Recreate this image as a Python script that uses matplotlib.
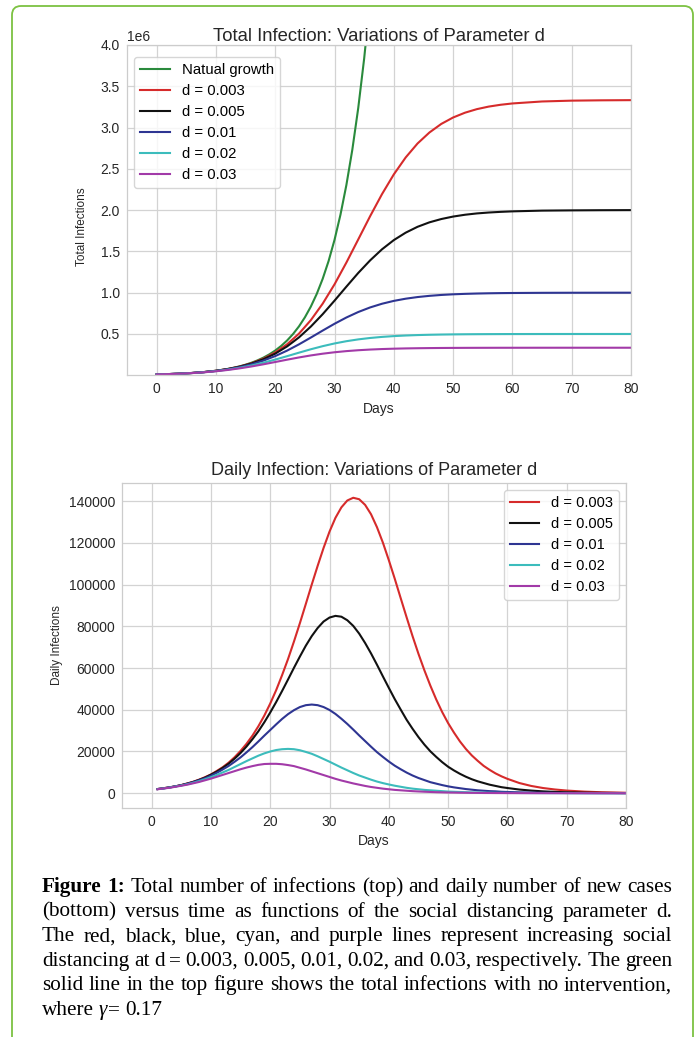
import numpy as np
import matplotlib.pyplot as plt
from matplotlib.patches import FancyBboxPatch
from matplotlib.transforms import IdentityTransform

plt.rcParams['font.family'] = 'Liberation Sans'

# values, in thousands of infections
days = [0, 2, 4, 6, 8, 10, 12, 14, 16, 18, 20, 22, 24, 26, 28, 30, 32, 34, 36, 38,
        40, 42, 44, 46, 48, 50, 52, 54, 56, 58, 60, 65, 70, 75, 80]
natural_days = list(range(0, 37))
natural = [10.0, 11.9, 14.0, 16.7, 19.7, 23.4, 27.7, 32.9, 39.0, 46.2, 54.7, 64.9, 76.9,
           91.2, 108.0, 128.1, 151.8, 179.9, 213.3, 252.8, 299.6, 355.2, 421.0, 499.0,
           591.5, 701.1, 831.0, 984.9, 1167.5, 1383.8, 1640.2, 1944.2, 2304.4, 2731.4,
           3237.6, 3837.5, 4548.6]
total_d003 = [10.0, 14.0, 19.7, 27.6, 38.6, 54.0, 75.4, 105.0, 145.6, 201.0, 275.7, 374.8,
              503.6, 666.9, 866.7, 1101.5, 1365, 1645, 1926, 2193, 2433, 2638, 2807, 2940,
              3044, 3122, 3180, 3223, 3254, 3276, 3292, 3316, 3326, 3330, 3332]
total_d005 = [10.0, 14.0, 19.6, 27.5, 38.4, 53.6, 74.4, 103.0, 141.8, 193.6, 261.7, 349.3,
              458.2, 589.3, 739.5, 903.6, 1073, 1239, 1391, 1525, 1637, 1727, 1798, 1852,
              1892, 1922, 1944, 1960, 1971, 1979, 1985, 1994, 1997, 1999, 2000]
total_d01 = [10.0, 14.0, 19.6, 27.3, 37.9, 52.4, 72.1, 98.4, 133.0, 177.2, 232.3, 298.4,
             374.0, 456.4, 541.1, 623.6, 699.5, 765.8, 821.3, 865.9, 900.7, 927.2, 947.1,
             961.7, 972.5, 980.3, 985.8, 989.9, 992.8, 994.9, 996.3, 998.4, 999.3, 999.7, 999.9]
total_d02 = [10.0, 13.9, 19.4, 26.8, 36.8, 50.3, 67.8, 90.3, 118.3, 151.6, 189.8, 231.1,
             273.4, 314.6, 352.2, 385.0, 412.3, 434.3, 451.4, 464.4, 474.1, 481.3, 486.6,
             490.3, 493.1, 495.1, 496.5, 497.5, 498.2, 498.7, 499.1, 499.6, 499.8, 499.9, 500.0]
total_d03 = [10.0, 13.9, 19.2, 26.3, 35.9, 48.3, 64.1, 83.5, 106.5, 132.5, 160.3, 188.5,
             215.5, 240.0, 261.0, 278.4, 292.3, 303.0, 311.2, 317.3, 321.7, 325.0, 327.3,
             329.0, 330.3, 331.2, 331.8, 332.2, 332.5, 332.8, 332.9, 333.2, 333.3, 333.3, 333.3]

daily_days = list(range(1, 61)) + [62, 64, 66, 68, 70, 73, 76, 80]
daily_d003 = [2.0, 2.4, 2.8, 3.3, 3.9, 4.7, 5.5, 6.5, 7.7, 9.0, 10.7, 12.5, 14.7, 17.3,
              20.3, 23.7, 27.6, 32.1, 37.2, 43.0, 49.4, 56.6, 64.3, 72.7, 81.5, 90.7, 100.0,
              109.0, 117.6, 125.4, 132.0, 137.0, 140.3, 141.6, 140.9, 138.2, 133.7, 127.5,
              120.1, 111.7, 102.8, 93.5, 84.3, 75.3, 66.8, 58.9, 51.6, 44.9, 38.9, 33.6,
              29.0, 24.8, 21.2, 18.1, 15.5, 13.1, 11.2, 9.5, 8.1, 6.9,
              4.9, 3.5, 2.5, 1.8, 1.28, 0.77, 0.46, 0.23]
daily_d005 = [2.0, 2.4, 2.8, 3.3, 3.9, 4.6, 5.4, 6.4, 7.5, 8.9, 10.4, 12.2, 14.2, 16.6,
              19.3, 22.4, 25.9, 29.7, 34.0, 38.7, 43.7, 49.0, 54.5, 60.1, 65.5, 70.7, 75.3,
              79.2, 82.3, 84.2, 85.0, 84.6, 82.9, 80.2, 76.5, 72.0, 67.0, 61.6, 56.0, 50.5,
              45.1, 40.1, 35.2, 30.9, 26.9, 23.3, 20.1, 17.4, 14.9, 12.7, 10.9, 9.3, 7.9,
              6.7, 5.7, 4.9, 4.1, 3.5, 2.9, 2.5,
              1.77, 1.27, 0.90, 0.64, 0.46, 0.28, 0.17, 0.08]
daily_d01 = [2.0, 2.3, 2.8, 3.3, 3.8, 4.5, 5.3, 6.2, 7.2, 8.4, 9.8, 11.4, 13.1, 15.1, 17.2,
             19.6, 22.1, 24.8, 27.6, 30.3, 33.0, 35.6, 37.9, 39.8, 41.3, 42.2, 42.5, 42.2,
             41.3, 39.9, 38.0, 35.7, 33.2, 30.5, 27.7, 25.0, 22.3, 19.7, 17.4, 15.2, 13.2,
             11.5, 9.9, 8.5, 7.3, 6.3, 5.3, 4.6, 3.9, 3.3, 2.8, 2.4, 2.0, 1.7, 1.4, 1.2,
             1.0, 0.9, 0.7, 0.6,
             0.44, 0.32, 0.23, 0.16, 0.11, 0.07, 0.04, 0.02]
daily_d02 = [2.0, 2.3, 2.7, 3.2, 3.7, 4.3, 5.0, 5.8, 6.7, 7.7, 8.8, 10.0, 11.2, 12.6, 14.0,
             15.4, 16.7, 18.0, 19.1, 20.0, 20.7, 21.1, 21.25, 21.1, 20.6, 19.8, 18.9, 17.7,
             16.4, 15.1, 13.7, 12.3, 11.0, 9.7, 8.5, 7.5, 6.5, 5.6, 4.85, 4.2, 3.6, 3.1,
             2.6, 2.2, 1.9, 1.6, 1.4, 1.2, 1.0, 0.8, 0.7, 0.6, 0.5, 0.4, 0.36, 0.3, 0.26,
             0.2, 0.18, 0.15,
             0.11, 0.08, 0.06, 0.04, 0.03, 0.02, 0.01, 0.005]
daily_d03 = [1.9, 2.3, 2.6, 3.1, 3.6, 4.1, 4.75, 5.4, 6.2, 7.0, 7.9, 8.8, 9.7, 10.6, 11.5,
             12.3, 13.0, 13.6, 14.0, 14.1, 14.1, 13.9, 13.5, 13.0, 12.2, 11.4, 10.5, 9.6,
             8.7, 7.8, 6.9, 6.1, 5.4, 4.7, 4.1, 3.5, 3.0, 2.6, 2.2, 1.9, 1.6, 1.4, 1.2, 1.0,
             0.85, 0.72, 0.61, 0.5, 0.43, 0.35, 0.31, 0.25, 0.22, 0.18, 0.16, 0.12, 0.11,
             0.09, 0.08, 0.06,
             0.05, 0.035, 0.025, 0.02, 0.012, 0.007, 0.004, 0.002]

labels = ['d = 0.003', 'd = 0.005', 'd = 0.01', 'd = 0.02', 'd = 0.03']
colors = ['#d62b2b', '#111111', '#2e3592', '#3cbcbc', '#a23aa8']
totals = [total_d003, total_d005, total_d01, total_d02, total_d03]
dailies = [daily_d003, daily_d005, daily_d01, daily_d02, daily_d03]

W, H = 696, 1037
fig = plt.figure(figsize=(W / 100, H / 100), dpi=100)


def style(ax):
    ax.set_facecolor('white')
    ax.grid(True, color='#d3d3d3', linewidth=0.9)
    ax.set_axisbelow(True)
    for s in ax.spines.values():
        s.set_color('#cccccc')
        s.set_linewidth(0.9)
    ax.tick_params(length=0, pad=5, labelsize=10, colors='#262626')


# top: total infections
ax1 = fig.add_axes([127 / W, 1 - 375 / H, 504 / W, 330 / H])
style(ax1)
ax1.plot(natural_days, np.array(natural) * 1e3, color='#2a8a3c', lw=1.5, label='Natual growth')
for vals, c, lab in zip(totals, colors, labels):
    ax1.plot(days, np.array(vals) * 1e3, color=c, lw=1.5, label=lab)
ax1.set_xlim(-5, 80)
ax1.set_ylim(3000, 4.0e6)
ax1.set_xticks(range(0, 81, 10))
ax1.set_title('Total Infection: Variations of Parameter d', fontsize=13.3, color='#262626', pad=2)
ax1.set_xlabel('Days', fontsize=10, color='#262626')
ax1.set_ylabel('Total Infections', fontsize=8.5, color='#262626')
ax1.yaxis.set_label_coords(-0.078, 0.45)
ax1.yaxis.get_offset_text().set_fontsize(10)
ax1.legend(loc='upper left', bbox_to_anchor=(0.0, 0.985), fontsize=10.7, frameon=True,
           edgecolor='#cccccc', handlelength=2.0, labelspacing=0.47)

# bottom: daily infections
ax2 = fig.add_axes([122 / W, 1 - 808 / H, 504 / W, 325 / H])
style(ax2)
for vals, c, lab in zip(dailies, colors, labels):
    ax2.plot(daily_days, np.array(vals) * 1e3, color=c, lw=1.5, label=lab)
ax2.set_xlim(-5, 80)
ax2.set_xticks(range(0, 81, 10))
ax2.set_title('Daily Infection: Variations of Parameter d', fontsize=13, color='#262626', pad=6)
ax2.set_xlabel('Days', fontsize=10, color='#262626')
ax2.set_ylabel('Daily Infections', fontsize=8.5, color='#262626')
ax2.legend(loc='upper right', fontsize=10.5, frameon=True, edgecolor='#cccccc',
           handlelength=2.0, labelspacing=0.48)

# green page frame
fig.patches.append(FancyBboxPatch((12, -30), 681, H - 6 + 30,
                                  boxstyle='round,pad=0,rounding_size=9',
                                  transform=IdentityTransform(), facecolor='none',
                                  edgecolor='#7cc242', lw=1.3))

# justified caption
cap_lines = [
    "Figure 1: Total number of infections (top) and daily number of new cases",
    "(bottom) versus time as functions of the social distancing parameter d.",
    "The red, black, blue, cyan, and purple lines represent increasing social",
    "distancing at d = 0.003, 0.005, 0.01, 0.02, and 0.03, respectively. The green",
    "solid line in the top figure shows the total infections with no intervention,",
]
CAP = 15.3
x_left, x_right = 42, 672
base, step = 892, 24.6
renderer = fig.canvas.get_renderer()
for i, line in enumerate(cap_lines):
    y = 1 - (base + i * step) / H
    words = line.split(' ')
    arts = []
    for j, w in enumerate(words):
        bold = i == 0 and j < 2
        arts.append(fig.text(0, y, w, fontsize=CAP, family='Liberation Serif',
                             weight='bold' if bold else 'normal', va='baseline'))
    widths = [a.get_window_extent(renderer).width for a in arts]
    gap = (x_right - x_left - sum(widths)) / (len(words) - 1)
    x = x_left
    for a, wd in zip(arts, widths):
        a.set_x(x / W)
        x += wd + gap

y = 1 - (base + 5 * step) / H
pieces = [('where', 'normal', 5), ('\u03b3', 'italic', 0.5), ('=', 'normal', 5), ('0.17', 'normal', 0)]
x = x_left
for s, st, after in pieces:
    t = fig.text(x / W, y, s, fontsize=CAP, family='Liberation Serif', style=st, va='baseline')
    x += t.get_window_extent(renderer).width + after

fig.savefig('out.png', dpi=100)
